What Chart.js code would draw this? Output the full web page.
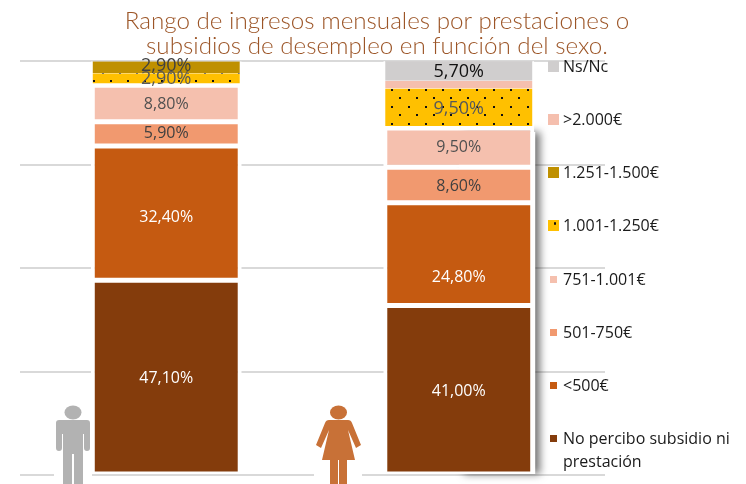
<!DOCTYPE html>
<html><head><meta charset="utf-8">
<style>
html,body{margin:0;padding:0;background:#fff;overflow:hidden}
#wrap{position:relative;width:746px;height:484px}
canvas{position:absolute;left:0;top:0}
.lg{position:absolute;left:563px;font:16px/23px "Open Sans",sans-serif;color:#1a1a1a;white-space:nowrap}
.mk{position:absolute}
svg{position:absolute;background:#fff}
</style>
<script src="https://cdn.jsdelivr.net/npm/chart.js@4"></script>
</head><body>
<div id="wrap"><canvas id="c" width="746" height="484"></canvas>
<svg style="left:54px;top:404px" width="38" height="80" viewBox="0 0 38 80"><ellipse cx="19" cy="8.5" rx="8.5" ry="7" fill="#b2b2b2"/><path d="M5 16H33Q36 16 36 19V44Q36 47 33 47Q30 47 30 44V30H29V80H20V50H18V80H9V30H8V44Q8 47 5 47Q2 47 2 44V19Q2 16 5 16Z" fill="#b2b2b2"/></svg>
<svg style="left:314px;top:404px" width="48" height="80" viewBox="0 0 48 80"><ellipse cx="24.5" cy="8.5" rx="8.5" ry="7" fill="#c87137"/><path d="M15 16H34Q37 16 38 19L47 41L42 44L34 26L41 56H33V80H25V56H24V80H16V56H8L15 26L7 44L2 41L11 19Q12 16 15 16Z" fill="#c87137"/></svg>
</div>
<script>
const categories = ["Hombre", "Mujer"];
const seriesNames = ["No percibo subsidio ni prestación", "<500€", "501-750€", "751-1.001€", "1.001-1.250€", "1.251-1.500€", ">2.000€", "Ns/Nc"];
const noPercibo = [47.1, 41.0];
const menos500 = [32.4, 24.8];
const de501a750 = [5.9, 8.6];
const de751a1001 = [8.8, 9.5];
const de1001a1250 = [2.9, 9.5];
const de1251a1500 = [2.9, 0];
const mas2000 = [0, 1.9];
const nsNc = [0, 5.7];
const titleLines = ["Rango de ingresos mensuales por prestaciones o", "subsidios de desempleo en función del sexo."];
const yTicks = [0, 25, 50, 75, 100];

const colors = ["#843C0C", "#C55A11", "#F1996F", "#F5C0AE", "#FFC000", "#BF9000", "#F5BFAE", "#D0CECE"];
const labelColors = ["#ffffff", "#ffffff", "#404040", "#505050", "#595959", "#404040", "#404040", "#111111"];
const labelSizes = [16, 16, 16, 16, 18, 18, 16, 18];
// vertical nudges of the value labels [Hombre, Mujer], in pixels
const labelNudges = [[1, 2], [4, 23], [0, 1], [1, 0], [0, 1], [-1, 0], [0, 0], [0, 3]];

function dotPattern() {
  const p = document.createElement("canvas");
  p.width = 17; p.height = 17;
  const g = p.getContext("2d");
  g.fillStyle = "#FFC000"; g.fillRect(0, 0, 17, 17);
  g.fillStyle = "#111";
  g.fillRect(0, 4, 2, 2);
  g.fillRect(8, 12, 2, 2);
  return g.createPattern(p, "repeat");
}
const hatch = dotPattern();

const allValues = [noPercibo, menos500, de501a750, de751a1001, de1001a1250, de1251a1500, mas2000, nsNc];
const inner = {top: 2.5, bottom: 2.5, left: 4, right: 4};
const borders = allValues.map((_, i) => i === 4 ? {top: 0, bottom: 2, left: 2, right: 2}
  : i === 5 || i === 7 ? {top: 0, bottom: 0, left: 2, right: 2}
  : i === 6 ? {top: 0, bottom: 0, left: 2, right: 2} : inner);

const barLabels = {
  id: "barLabels",
  afterDatasetsDraw(chart) {
    const ctx = chart.ctx;
    ctx.save();
    ctx.textAlign = "center"; ctx.textBaseline = "middle";
    chart.data.datasets.forEach((ds, i) => {
      chart.getDatasetMeta(i).data.forEach((el, j) => {
        const v = ds.data[j];
        if (!v || i === 6) return;
        ctx.fillStyle = labelColors[i];
        ctx.font = labelSizes[i] + 'px "Open Sans", sans-serif';
        const p = el.getCenterPoint();
        ctx.fillText(v.toFixed(2).replace(".", ",") + "%", p.x, p.y + labelNudges[i][j]);
      });
    });
    ctx.restore();
  }
};
const barShadow = {
  id: "barShadow",
  beforeDatasetsDraw(chart) {
    const ctx = chart.ctx, top = chart.getDatasetMeta(3).data[1], low = chart.getDatasetMeta(0).data[1];
    ctx.save();
    ctx.shadowColor = "rgba(0,0,0,0.55)"; ctx.shadowBlur = 8; ctx.shadowOffsetX = 5; ctx.shadowOffsetY = 0;
    ctx.fillStyle = "#fff";
    ctx.fillRect(top.x, top.y + 4, top.width / 2 + 1, low.base - top.y - 4);
    ctx.restore();
  }
};

new Chart(document.getElementById("c"), {
  type: "bar",
  plugins: [barShadow, barLabels],
  data: {
    labels: categories,
    datasets: allValues.map((d, i) => ({
      label: seriesNames[i], data: d,
      backgroundColor: i === 4 ? hatch : colors[i],
      borderColor: "#ffffff", borderWidth: borders[i], borderSkipped: false,
      barPercentage: 0.516, categoryPercentage: 1
    }))
  },
  options: {
    responsive: false, animation: false,
    layout: {padding: {left: 8, right: 0, top: 0, bottom: 1}},
    plugins: {
      legend: {display: false}, tooltip: {enabled: false},
      title: {display: true, text: titleLines, color: "#9C5527",
        font: {family: "Lato", size: 24.2, weight: 300, lineHeight: 1.06}, padding: {top: 8, bottom: 2}}
    },
    scales: {
      x: {stacked: true, grid: {display: false}, border: {display: false}, ticks: {display: false}},
      y: {stacked: true, min: 0, max: 100, afterBuildTicks(s) { s.ticks = yTicks.map(v => ({value: v})); },
        afterFit(s) { s.width = 12; },
        grid: {color: "#D9D9D9", lineWidth: 2, drawTicks: false}, border: {display: false}, ticks: {display: false}},
      spacer: {position: "right", display: true, afterFit(s) { s.width = 141; },
        grid: {display: false}, border: {display: false}, ticks: {display: false}}
    }
  }
});

const legendRows = [
  {n: 7, y: 66, s: 11}, {n: 6, y: 119, s: 11}, {n: 5, y: 172, s: 11}, {n: 4, y: 225, s: 11},
  {n: 3, y: 279, s: 7}, {n: 2, y: 332, s: 7}, {n: 1, y: 385, s: 7}, {n: 0, y: 438, s: 7}
];
const wrap = document.getElementById("wrap");
legendRows.forEach(r => {
  const t = document.createElement("div");
  t.className = "lg"; t.style.top = (r.y - 11.5) + "px";
  if (r.n === 0) t.innerHTML = "No percibo subsidio ni<br>prestación";
  else t.textContent = seriesNames[r.n];
  wrap.appendChild(t);
  const m = document.createElement("div");
  m.className = "mk";
  m.style.cssText += `left:${553.5 - r.s / 2}px;top:${r.y - r.s / 2}px;width:${r.s}px;height:${r.s}px;background:${colors[r.n]}`;
  if (r.n === 4) m.style.backgroundImage = "radial-gradient(circle at 7px 3.5px,#111 1px,transparent 1.5px)";
  wrap.appendChild(m);
});
</script>
</body></html>
